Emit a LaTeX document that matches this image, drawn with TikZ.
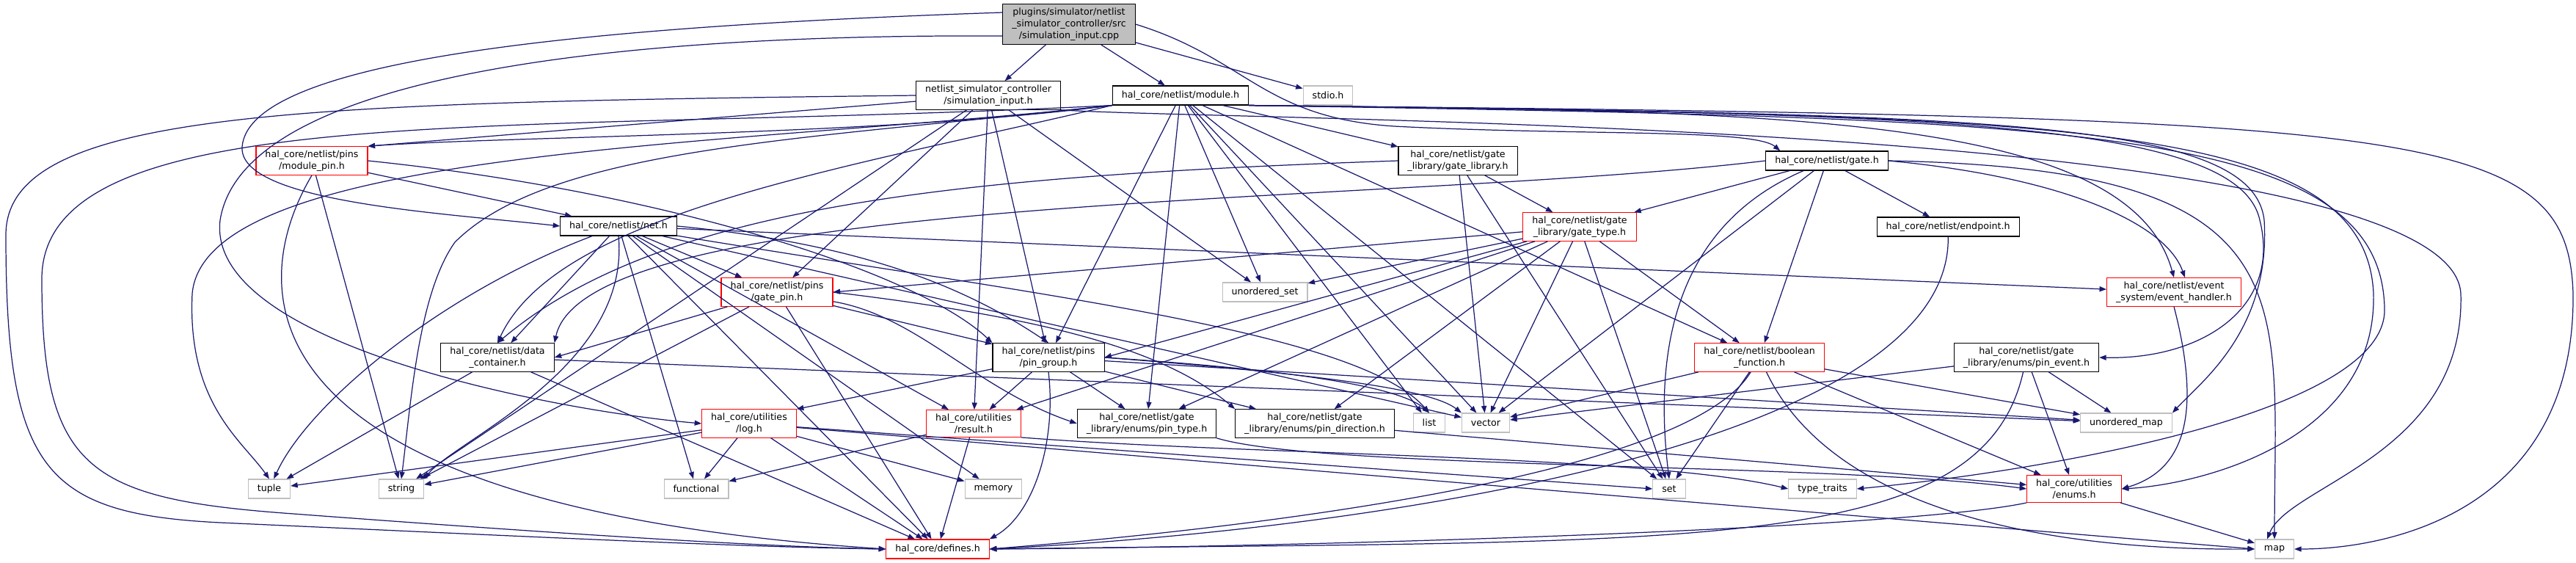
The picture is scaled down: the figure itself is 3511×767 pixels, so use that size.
\documentclass[tikz,border=0pt]{standalone}
\usepackage{fontspec}
\setmainfont{DejaVu Sans}
\usetikzlibrary{arrows.meta}

\begin{document}
\begin{tikzpicture}[x=0.02cm, y=-0.02cm,
  hdr/.style={draw=black, fill=white, line width=0.6pt, align=center,
    font=\fontsize{7.2}{9.1}\selectfont, inner xsep=0.25cm, inner ysep=0.1cm,
    minimum height=0.52cm},
  redhdr/.style={hdr, draw=doxRed},
  syshdr/.style={hdr, draw=doxGray},
  srcbox/.style={hdr, fill=doxGray},
  dep/.style={draw=doxBlue, line width=0.7pt, -{Triangle[length=0.19cm, width=0.14cm]}}]

% Colori del grafo
\definecolor{doxBlue}{HTML}{191970}
\definecolor{doxRed}{HTML}{FF0000}
\definecolor{doxGray}{HTML}{BFBFBF}

% Sfondo e margini
\fill[white] (0,0) rectangle (3511,767);
\useasboundingbox (0,0) rectangle (3511,767);

% File sorgente
\node[srcbox] (root) at (1457,33) {plugins/simulator/netlist\\\_simulator\_controller/src\\/simulation\_input.cpp};

% Primo livello
\node[hdr] (siminp) at (1347,130) {netlist\_simulator\_controller\\/simulation\_input.h};
\node[hdr] (module) at (1609,130) {hal\_core/netlist/module.h};
\node[syshdr] (stdio) at (1810,130) {stdio.h};

% Header del netlist
\node[redhdr] (modpin) at (425,219) {hal\_core/netlist/pins\\/module\_pin.h};
\node[hdr] (gatelib) at (1987,219) {hal\_core/netlist/gate\\\_library/gate\_library.h};
\node[hdr] (gate) at (2490,219) {hal\_core/netlist/gate.h};
\node[hdr] (net) at (843,308) {hal\_core/netlist/net.h};
\node[redhdr] (gatetype) at (2153,309) {hal\_core/netlist/gate\\\_library/gate\_type.h};
\node[hdr] (endpoint) at (2655,309) {hal\_core/netlist/endpoint.h};
\node[redhdr] (gatepin) at (1059,398) {hal\_core/netlist/pins\\/gate\_pin.h};
\node[syshdr] (uset) at (1724,398) {unordered\_set};
\node[redhdr] (evhandler) at (2963,398) {hal\_core/netlist/event\\\_system/event\_handler.h};
\node[hdr] (datacont) at (678,487) {hal\_core/netlist/data\\\_container.h};
\node[hdr] (pingroup) at (1429,487) {hal\_core/netlist/pins\\/pin\_group.h};
\node[redhdr] (boolfn) at (2398,487) {hal\_core/netlist/boolean\\\_function.h};
\node[hdr] (pinevent) at (2762,487) {hal\_core/netlist/gate\\\_library/enums/pin\_event.h};

% Utilities ed enum
\node[redhdr] (log) at (1021,577) {hal\_core/utilities\\/log.h};
\node[redhdr] (result) at (1327,577) {hal\_core/utilities\\/result.h};
\node[hdr] (pintype) at (1563,577) {hal\_core/netlist/gate\\\_library/enums/pin\_type.h};
\node[hdr] (pindir) at (1792,577) {hal\_core/netlist/gate\\\_library/enums/pin\_direction.h};
\node[syshdr] (list) at (1948,576) {list};
\node[syshdr] (vector) at (2025,576) {vector};
\node[syshdr] (umap) at (2898,576) {unordered\_map};

% Header di sistema in basso
\node[syshdr] (tuple) at (367,666) {tuple};
\node[syshdr] (string) at (547,666) {string};
\node[syshdr] (functional) at (949,666) {functional};
\node[syshdr] (memory) at (1354,666) {memory};
\node[syshdr] (set) at (2275,666) {set};
\node[syshdr] (typetraits) at (2484,666) {type\_traits};
\node[redhdr] (enums) at (2827,666) {hal\_core/utilities\\/enums.h};
\node[redhdr] (defines) at (1278,748) {hal\_core/defines.h};
\node[syshdr] (map) at (3100,748) {map};

% Dipendenze - simulation_input.cpp
\draw[dep] (root) -- (siminp);
\draw[dep] (root) -- (module);
\draw[dep] (root) -- (stdio);
\draw[dep] (root.170) .. controls (800,36) and (340,80) .. (330,200) .. controls (325,275) and (600,290) .. (net.west);
\draw[dep] (root.190) .. controls (800,46) and (330,110) .. (300,300) .. controls (280,470) and (760,560) .. (log.west);
\draw[dep] (root.east) .. controls (1700,80) and (1720,160) .. (1900,172) .. controls (2150,185) and (2390,175) .. ([xshift=0.4cm]gate.north west);

% Dipendenze - simulation_input.h
\draw[dep] (siminp.west) .. controls (400,140) and (8,150) .. (8,320) .. controls (8,640) and (60,700) .. (300,712) .. controls (700,730) and (1000,745) .. (defines.west);
\draw[dep] (siminp) -- (modpin.north east);
\draw[dep] (siminp) -- (gatepin);
\draw[dep] (siminp) -- (pingroup);
\draw[dep] (siminp) -- (result);
\draw[dep] (siminp) -- (uset);
\draw[dep] (siminp) -- (string);
\draw[dep] (siminp.south east) .. controls (1700,166) and (3340,162) .. (3354,400) .. controls (3360,620) and (3120,660) .. ([xshift=-0.2cm]map.north);

% Dipendenze - module.h
\draw[dep] (module.south west) .. controls (1200,185) and (700,185) .. (modpin.north east);
\draw[dep] (module) -- (gatelib);
\draw[dep] (module.south east) .. controls (2400,152) and (2900,150) .. (evhandler.north);
\draw[dep] (module.south west) .. controls (1150,230) and (760,290) .. (datacont.north);
\draw[dep] (module) -- (pingroup);
\draw[dep] (module) -- (pintype);
\draw[dep] (module) -- (boolfn);
\draw[dep] (module.south east) .. controls (2600,155) and (3050,160) .. (3080,300) .. controls (3110,420) and (3000,490) .. (pinevent.east);
\draw[dep] (module.south east) .. controls (2800,158) and (3224,160) .. (3235,400) .. controls (3240,600) and (3000,660) .. (enums.east);
\draw[dep] (module) -- (uset);
\draw[dep] (module) -- (vector);
\draw[dep] (module) -- (list);
\draw[dep] (module.south east) .. controls (2700,156) and (3070,160) .. (3086,300) .. controls (3095,450) and (3000,520) .. (umap.north east);
\draw[dep] (module) -- (set);
\draw[dep] (module.south east) .. controls (3300,160) and (3500,170) .. (3507,400) .. controls (3510,700) and (3250,748) .. (map.east);
\draw[dep] (module.south west) .. controls (1100,190) and (750,200) .. (620,330) .. controls (570,400) and (560,550) .. (string.north);
\draw[dep] (module.south east) .. controls (2800,162) and (3245,165) .. (3250,420) .. controls (3255,560) and (2800,640) .. (typetraits.east);
\draw[dep] (module.south west) .. controls (1000,200) and (280,200) .. (262,400) .. controls (255,550) and (330,600) .. (tuple.north);
\draw[dep] (module.south west) .. controls (700,185) and (57,130) .. (57,380) .. controls (57,640) and (120,680) .. (400,700) .. controls (800,730) and (1050,745) .. (defines.west);

% Dipendenze - module_pin.h
\draw[dep] (modpin) -- (net);
\draw[dep] (modpin.east) .. controls (900,260) and (1250,370) .. (pingroup.north west);
\draw[dep] (modpin) -- (string);
\draw[dep] (modpin.south) .. controls (330,400) and (330,690) .. (defines.west);

% Dipendenze - net.h
\draw[dep] (net) -- (evhandler);
\draw[dep] (net) -- (datacont);
\draw[dep] (net) -- (gatepin);
\draw[dep] (net.east) .. controls (1150,330) and (1300,380) .. (pingroup.north);
\draw[dep] (net) -- (result);
\draw[dep] (net) .. controls (600,400) and (420,550) .. (tuple);
\draw[dep] (net.south) .. controls (860,500) and (620,600) .. (string.north east);
\draw[dep] (net) -- (functional);
\draw[dep] (net) -- (memory);
\draw[dep] (net) -- (vector);
\draw[dep] (net) .. controls (1400,400) and (1850,450) .. (list.north);
\draw[dep] (net) -- (defines);

% Dipendenze - gate_library.h
\draw[dep] (gatelib) -- (gatetype);
\draw[dep] (gatelib.west) .. controls (1300,240) and (900,280) .. (datacont.north);
\draw[dep] (gatelib) -- (vector);
\draw[dep] (gatelib) -- (set);

% Dipendenze - gate.h
\draw[dep] (gate) -- (gatetype);
\draw[dep] (gate) -- (endpoint);
\draw[dep] (gate.east) .. controls (2800,240) and (2950,300) .. ([xshift=0.3cm]evhandler.north);
\draw[dep] (gate.west) .. controls (1900,280) and (800,260) .. (datacont.north east);
\draw[dep] (gate) -- (boolfn);
\draw[dep] (gate) .. controls (2300,300) and (2250,450) .. (set.north);
\draw[dep] (gate.east) .. controls (3150,230) and (3100,400) .. (map.north);
\draw[dep] (gate) -- (vector);

% Dipendenze - gate_type.h
\draw[dep] (gatetype) -- (boolfn);
\draw[dep] (gatetype) -- (gatepin.east);
\draw[dep] (gatetype) -- (pingroup.east);
\draw[dep] (gatetype) -- (pintype);
\draw[dep] (gatetype) -- (pindir);
\draw[dep] (gatetype) -- (result);
\draw[dep] (gatetype) -- (uset);
\draw[dep] (gatetype) -- (set);
\draw[dep] (gatetype) -- (vector);

% Dipendenze - endpoint.h, event_handler.h
\draw[dep] (endpoint) .. controls (2660,600) and (1900,720) .. (defines.east);
\draw[dep] (evhandler.south) .. controls (3000,560) and (2980,640) .. (enums.east);

% Dipendenze - gate_pin.h
\draw[dep] (gatepin) -- (datacont.east);
\draw[dep] (gatepin) -- (pingroup);
\draw[dep] (gatepin) .. controls (1250,430) and (1330,530) .. (pintype.west);
\draw[dep] (gatepin.east) .. controls (1400,430) and (1580,470) .. (pindir.north west);
\draw[dep] (gatepin) -- (string);
\draw[dep] (gatepin) -- (defines);

% Dipendenze - data_container.h
\draw[dep] (datacont) -- (tuple);
\draw[dep] (datacont) -- (defines);
\draw[dep] (datacont) -- (umap);

% Dipendenze - log.h
\draw[dep] (log) -- (tuple);
\draw[dep] (log) -- (string);
\draw[dep] (log) -- (functional);
\draw[dep] (log) -- (memory);
\draw[dep] (log) -- (set.west);
\draw[dep] (log) -- (map.west);
\draw[dep] (log) -- (defines);

% Dipendenze - result.h
\draw[dep] (result) -- (defines);
\draw[dep] (result) -- (functional);
\draw[dep] (result.south east) .. controls (1700,620) and (2250,620) .. (typetraits.west);

% Dipendenze - pin_group.h
\draw[dep] (pingroup) -- (log.north east);
\draw[dep] (pingroup) -- (result);
\draw[dep] (pingroup) -- (pintype);
\draw[dep] (pingroup) -- (pindir);
\draw[dep] (pingroup.east) .. controls (1700,500) and (1900,520) .. (list.north);
\draw[dep] (pingroup.east) .. controls (1800,510) and (1950,530) .. (vector.north west);
\draw[dep] (pingroup) -- (umap);
\draw[dep] (pingroup.south) .. controls (1440,600) and (1410,700) .. (defines.north east);

% Dipendenze - enum dei pin
\draw[dep] (pintype.south east) .. controls (1800,640) and (2500,630) .. (enums.west);
\draw[dep] (pindir) -- (enums);

% Dipendenze - boolean_function.h
\draw[dep] (boolfn) .. controls (2300,650) and (1700,720) .. (defines.east);
\draw[dep] (boolfn) -- (enums);
\draw[dep] (boolfn) -- (umap);
\draw[dep] (boolfn) .. controls (2500,700) and (2800,750) .. (map.west);
\draw[dep] (boolfn) -- (set);
\draw[dep] (boolfn) -- (vector);

% Dipendenze - pin_event.h
\draw[dep] (pinevent) .. controls (2700,760) and (2300,735) .. (defines.east);
\draw[dep] (pinevent) -- (enums);
\draw[dep] (pinevent) -- (umap);
\draw[dep] (pinevent) -- (vector);

% Dipendenze - enums.h
\draw[dep] (enums.south west) .. controls (2600,720) and (1800,745) .. (defines.east);
\draw[dep] (enums) -- (map);
\end{tikzpicture}
\end{document}
